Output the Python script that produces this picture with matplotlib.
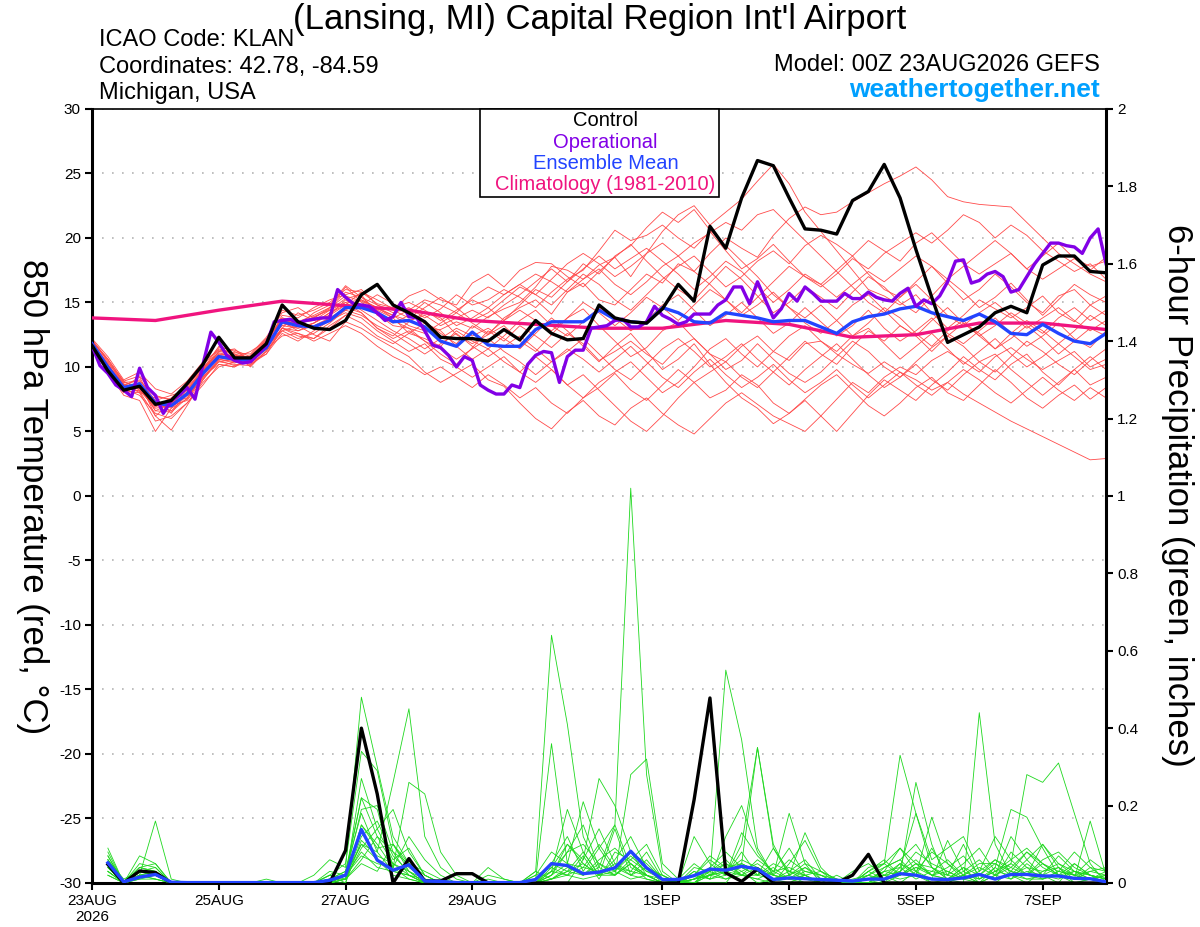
import numpy as np
import matplotlib
matplotlib.use('Agg')
from matplotlib import pyplot as plt
from matplotlib.patches import Rectangle

plt.rcParams['font.family'] = ['Liberation Sans', 'DejaVu Sans']
plt.rcParams['axes.unicode_minus'] = False

# forecast days from 00Z 23AUG2026 (6-hourly, 0..384 h)
days_6h = np.arange(65) * 0.25
days_3h = np.arange(129) * 0.125
days_clim = np.arange(17)
days_precip = days_6h[1:]

tick_days = [0, 2, 4, 6, 9, 11, 13, 15]
tick_labels = ['23AUG\n2026', '25AUG', '27AUG', '29AUG', '1SEP', '3SEP', '5SEP', '7SEP']

# 850 hPa temperature, deg C
control_t = [11.65, 9.7, 8.2, 8.5, 7.1, 7.4, 8.7, 10.2, 12.3, 10.7, 10.7, 11.8,
             14.8, 13.5, 13.0, 12.9, 13.6, 15.6, 16.4, 14.8, 14.2, 13.5, 12.3, 12.2, 12.2, 12.0, 12.9,
             12.1, 13.6, 12.6, 12.1, 12.2, 14.8, 13.8, 13.5, 13.4, 14.5,
             16.4, 15.1, 20.9, 19.2, 23.1, 26.0, 25.6, 23.1, 20.7, 20.6,
             20.3, 22.9, 23.6, 25.7, 23.1, 19.1, 15.4, 11.9, 12.5, 13.1,
             14.2, 14.7, 14.2, 17.9, 18.6, 18.6, 17.4, 17.3]

mean_t = [11.8, 10.0, 8.4, 8.7, 7.2, 7.0, 7.9, 9.5, 10.8, 10.6, 10.5, 11.5,
          13.5, 13.2, 13.1, 13.6, 14.6, 14.6, 14.2, 13.5, 13.6, 13.1, 12.0, 11.6, 12.7, 11.7, 11.6,
          11.6, 12.9, 13.5, 13.5, 13.5, 14.4, 13.7, 13.5, 13.4, 14.6,
          14.2, 13.5, 13.4, 14.2, 14.0, 13.8, 13.5, 13.6, 13.6, 13.1,
          12.6, 13.5, 13.9, 14.1, 14.5, 14.7, 14.2, 13.9, 13.6, 14.1,
          13.5, 12.6, 12.5, 13.3, 12.6, 12.0, 11.8, 12.6]

# operational run, 3-hourly
oper_t = [11.65, 10.1, 9.5, 8.6, 8.2, 7.7, 9.9, 8.4, 7.8, 6.4, 7.4, 7.8, 8.4, 7.5, 10.2, 12.7,
          11.9, 10.9, 10.5, 10.3, 10.4, 11.0, 11.7, 13.5, 13.6, 13.7, 13.4, 13.6, 13.7, 13.8, 13.8, 16.0,
          15.4, 14.9, 14.8, 14.7, 14.2, 13.6, 13.9, 15.0, 13.9, 13.8, 12.8, 11.7, 11.5, 10.9, 10.0, 10.8,
          10.5, 8.6, 8.2, 7.9, 7.9, 8.6, 8.4, 10.2, 10.9, 11.2, 11.1, 8.8, 10.8, 11.3, 11.3, 13.0,
          13.1, 13.2, 13.6, 13.7, 13.1, 13.1, 13.5, 14.7, 14.0, 13.7, 13.3, 13.5, 14.1, 14.1, 14.1, 14.8,
          15.2, 16.2, 16.2, 14.9, 16.6, 15.2, 13.8, 14.5, 15.7, 15.1, 16.2, 15.7, 15.1, 15.1, 15.1, 15.7,
          15.3, 15.3, 15.8, 15.4, 15.2, 15.1, 15.7, 16.1, 14.7, 15.2, 14.9, 15.5, 16.6, 18.2, 18.3, 16.5,
          16.7, 17.2, 17.4, 17.0, 15.8, 16.0, 17.0, 18.0, 18.8, 19.6, 19.6, 19.4, 19.3, 18.8, 20.0, 20.7,
          18.0]

clim_t = [13.8, 13.6, 14.4, 15.1, 14.75, 14.4, 13.6, 13.3, 13.0, 13.0, 13.6, 13.3, 12.3, 12.5, 13.4, 13.4, 12.9]

member_t = [
    [11.9, 10.3, 8.9, 8.2, 6.9, 7.6, 8.6, 9.9, 11.0, 10.9, 10.8, 12.0,
     13.8, 13.5, 14.0, 14.6, 15.5, 15.1, 14.5, 14.0, 13.2, 12.8, 12.9, 13.5, 13.0, 13.9, 14.5,
     15.0, 16.2, 17.8, 17.5, 16.8, 17.9, 18.5, 17.0, 18.8, 20.5,
     21.8, 22.5, 21.0, 22.0, 23.0, 24.4, 25.7, 24.2, 22.0, 20.5,
     19.0, 17.5, 16.0, 15.5, 14.8, 15.6, 14.2, 13.0, 14.0, 15.2,
     14.5, 13.8, 14.6, 15.5, 14.2, 13.5, 14.8, 14.0],
    [11.5, 9.6, 7.8, 7.4, 5.0, 6.8, 7.5, 9.2, 10.4, 10.2, 10.1, 11.2,
     13.0, 12.6, 12.2, 13.0, 14.0, 14.8, 15.6, 14.9, 14.2, 13.5, 12.6, 11.8, 13.2, 12.5, 13.8,
     14.6, 15.2, 14.1, 15.8, 16.5, 15.2, 14.8, 16.0, 17.2, 16.5,
     18.0, 17.4, 18.8, 20.0, 19.2, 18.5, 20.2, 21.5, 22.4, 21.8,
     22.0, 22.8, 23.5, 24.2, 24.8, 25.5, 24.5, 23.2, 22.8, 22.6,
     22.5, 22.4, 21.2, 20.0, 18.8, 18.0, 17.2, 16.6],
    [12.2, 10.8, 9.0, 9.6, 8.3, 7.9, 8.9, 10.4, 11.3, 11.1, 11.0, 12.3,
     14.2, 14.6, 13.8, 14.5, 16.2, 15.0, 14.1, 13.2, 13.0, 12.0, 11.0, 10.2, 11.5, 12.8, 12.0,
     13.2, 12.4, 11.5, 12.6, 11.8, 10.5, 11.2, 12.0, 11.0, 10.2,
     11.5, 12.2, 11.0, 10.4, 11.6, 12.4, 11.2, 10.5, 11.8, 12.0,
     11.0, 10.2, 9.5, 10.4, 9.6, 9.0, 8.2, 8.8, 7.9, 7.2,
     6.5, 5.8, 5.2, 4.6, 4.0, 3.4, 2.8, 2.9],
    [11.7, 9.9, 8.2, 8.8, 6.2, 5.1, 7.0, 9.0, 10.6, 10.3, 10.7, 11.6,
     12.8, 13.2, 12.5, 12.0, 13.5, 13.0, 12.2, 11.5, 10.8, 9.6, 8.8, 9.5, 10.2, 9.0, 8.5,
     7.2, 6.0, 5.2, 6.5, 7.4, 6.2, 5.5, 6.8, 7.6, 6.4,
     5.5, 4.8, 6.0, 7.2, 8.0, 7.1, 6.2, 5.6, 5.0, 6.2,
     7.5, 8.8, 8.0, 9.2, 10.0, 9.4, 10.5, 11.2, 10.4, 9.6,
     10.8, 11.5, 10.6, 9.8, 10.5, 11.2, 10.0, 10.6],
    [12.0, 10.5, 8.7, 8.0, 7.6, 6.4, 8.1, 9.6, 11.2, 11.4, 10.4, 11.0,
     13.0, 14.2, 13.6, 14.0, 14.8, 15.8, 15.2, 14.5, 15.5, 16.0, 15.2, 14.8, 16.5, 17.2, 16.2,
     17.5, 18.1, 18.0, 17.0, 16.2, 17.4, 18.5, 19.5, 18.2, 17.0,
     16.0, 15.2, 16.5, 17.8, 16.8, 15.5, 14.2, 15.0, 16.2, 15.4,
     14.5, 15.8, 17.0, 16.2, 15.0, 14.2, 15.5, 16.8, 15.8, 14.6,
     15.4, 16.5, 15.2, 14.0, 15.2, 16.4, 15.6, 15.0],
    [11.6, 10.1, 8.5, 9.2, 7.0, 7.3, 7.6, 9.3, 10.2, 10.0, 10.9, 12.2,
     13.5, 12.8, 13.4, 14.2, 15.0, 14.2, 13.0, 12.4, 13.5, 14.2, 13.8, 12.5, 11.8, 12.5, 13.2,
     12.0, 11.2, 12.5, 13.8, 14.5, 13.2, 12.0, 10.8, 11.5, 12.8,
     13.5, 12.2, 11.0, 9.8, 10.5, 11.8, 10.6, 9.5, 8.8, 9.6,
     10.8, 12.0, 11.2, 10.0, 9.2, 10.4, 11.5, 12.4, 11.6, 10.4,
     9.6, 10.8, 12.0, 11.2, 10.2, 9.4, 10.5, 11.4],
    [11.8, 10.0, 8.0, 8.6, 6.6, 7.2, 8.4, 9.8, 11.6, 11.2, 10.6, 11.8,
     14.0, 13.8, 14.6, 15.2, 15.6, 16.0, 14.8, 14.2, 14.6, 13.8, 14.5, 15.6, 14.8, 15.2, 16.0,
     15.4, 14.6, 15.8, 16.8, 17.5, 19.0, 20.6, 19.8, 20.2, 21.0,
     20.0, 19.2, 20.5, 19.0, 17.6, 18.4, 19.5, 18.2, 17.0, 16.4,
     17.5, 18.6, 17.2, 16.0, 15.4, 16.6, 17.8, 16.5, 15.2, 16.0,
     17.2, 16.2, 15.0, 14.2, 15.5, 16.0, 14.8, 15.5],
    [11.4, 9.8, 8.3, 7.8, 6.4, 6.0, 7.2, 8.8, 10.0, 10.4, 10.2, 11.0,
     12.6, 12.0, 12.8, 13.6, 14.2, 13.8, 12.8, 12.0, 11.2, 11.8, 10.6, 10.0, 9.2, 10.0, 10.8,
     9.6, 8.8, 9.8, 8.6, 7.6, 8.4, 9.5, 8.2, 7.4, 8.6,
     9.8, 8.8, 7.6, 8.2, 9.4, 8.6, 7.2, 6.4, 7.5, 8.6,
     9.4, 8.2, 7.0, 6.2, 7.2, 8.4, 9.2, 8.0, 7.4, 8.6,
     9.8, 8.8, 7.6, 6.8, 7.8, 8.6, 7.5, 8.4],
    [12.1, 10.4, 8.6, 9.0, 7.4, 7.8, 8.2, 9.6, 10.9, 10.7, 11.2, 12.0,
     13.2, 13.6, 13.0, 13.8, 14.4, 15.2, 14.6, 13.8, 12.6, 12.2, 11.6, 12.8, 12.0, 11.4, 12.4,
     13.6, 14.4, 13.2, 12.4, 13.5, 14.6, 13.8, 12.8, 13.6, 14.8,
     15.6, 14.4, 13.2, 14.0, 15.0, 13.8, 12.6, 13.4, 14.6, 13.5,
     12.4, 13.2, 14.4, 13.0, 12.0, 12.8, 13.8, 12.6, 11.8, 12.8,
     13.8, 12.6, 11.6, 12.4, 13.4, 12.2, 11.5, 12.8],
    [11.8, 10.2, 8.6, 8.4, 7.2, 6.6, 7.8, 9.4, 10.7, 10.5, 10.3, 11.4,
     13.4, 13.0, 13.4, 14.0, 15.2, 14.4, 13.6, 12.8, 12.2, 11.4, 12.2, 13.0, 12.4, 13.0, 12.2,
     11.4, 12.6, 13.8, 12.8, 11.6, 10.4, 11.6, 12.6, 11.2, 9.8,
     10.6, 11.8, 10.2, 8.8, 7.6, 6.8, 5.6, 6.4, 7.4, 6.2,
     5.0, 6.4, 7.8, 9.0, 8.2, 7.4, 8.6, 9.6, 10.8, 9.8,
     9.0, 10.2, 11.0, 9.6, 8.6, 9.8, 10.8, 9.8],
    [11.9, 10.0, 8.8, 8.9, 7.8, 7.4, 8.0, 9.7, 11.4, 11.0, 10.0, 11.3,
     13.6, 13.2, 14.2, 14.8, 16.3, 15.4, 14.8, 14.4, 13.8, 14.6, 15.4, 14.6, 13.6, 14.2, 15.2,
     16.2, 15.6, 14.8, 16.0, 17.2, 16.4, 15.2, 14.4, 15.6, 16.8,
     17.8, 18.6, 17.4, 16.2, 17.0, 18.2, 19.0, 18.0, 19.4, 20.2,
     19.5, 18.6, 19.8, 19.0, 18.2, 19.6, 20.4, 19.2, 18.0, 17.2,
     18.0, 18.8, 17.6, 16.8, 17.6, 18.4, 17.5, 18.5],
    [11.6, 9.7, 8.0, 8.2, 6.8, 7.0, 7.4, 9.0, 10.5, 10.1, 10.4, 11.6,
     13.0, 12.4, 12.2, 13.2, 14.0, 13.4, 12.4, 11.8, 12.6, 13.4, 12.8, 11.6, 10.6, 11.4, 10.4,
     9.6, 10.8, 9.8, 8.6, 9.4, 8.2, 7.0, 5.8, 5.0, 6.2,
     7.6, 8.8, 9.6, 10.4, 9.2, 8.4, 9.6, 10.8, 12.0, 11.0,
     10.2, 11.6, 12.8, 12.0, 13.2, 12.4, 11.2, 12.4, 13.4, 12.6,
     11.4, 12.2, 13.2, 12.2, 11.0, 12.0, 13.0, 12.4],
    [12.0, 10.6, 8.8, 8.5, 7.0, 7.0, 8.5, 10.0, 11.1, 10.8, 10.6, 11.9,
     13.8, 13.4, 13.6, 14.4, 15.3, 15.6, 14.0, 13.4, 14.0, 15.0, 14.2, 13.2, 13.8, 14.6, 13.6,
     14.8, 16.0, 15.4, 16.6, 18.0, 17.2, 18.6, 19.4, 20.8, 22.0,
     21.2, 22.2, 20.6, 19.4, 18.2, 17.0, 15.6, 14.6, 13.8, 14.8,
     13.6, 12.4, 13.4, 14.6, 13.8, 12.6, 11.6, 12.8, 13.6, 12.4,
     11.4, 12.6, 13.6, 12.8, 11.8, 12.8, 14.0, 13.2],
    [11.7, 10.0, 8.4, 8.6, 7.4, 6.8, 8.0, 9.4, 10.8, 10.8, 10.8, 11.8,
     13.2, 13.0, 13.4, 14.2, 14.8, 14.6, 14.2, 13.6, 13.0, 12.6, 13.4, 14.2, 13.4, 12.6, 13.6,
     14.4, 13.6, 12.8, 13.8, 15.0, 14.2, 13.2, 14.2, 15.4, 14.6,
     13.6, 14.8, 16.0, 15.2, 14.2, 15.4, 16.6, 17.8, 17.0, 16.2,
     17.2, 18.4, 17.6, 18.8, 19.6, 20.4, 19.6, 20.6, 21.8, 21.2,
     20.0, 21.0, 20.2, 19.0, 18.2, 17.4, 18.0, 16.8],
    [11.8, 10.1, 8.6, 8.3, 7.0, 6.9, 8.2, 9.8, 11.0, 10.8, 10.4, 11.7,
     13.6, 13.4, 13.8, 14.6, 15.8, 15.4, 14.4, 13.8, 14.4, 15.2, 14.8, 14.2, 15.4, 16.2, 15.6,
     16.4, 17.2, 16.6, 15.8, 16.8, 17.6, 16.4, 15.6, 16.6, 17.8,
     18.6, 19.6, 20.4, 21.2, 20.6, 21.8, 22.2, 21.0, 19.8, 18.6,
     17.4, 16.2, 15.0, 14.2, 15.4, 16.4, 15.2, 14.0, 13.2, 14.2,
     15.0, 14.0, 13.0, 13.8, 14.6, 13.6, 12.8, 13.6],
    [11.5, 9.8, 8.1, 8.0, 5.8, 6.2, 7.2, 8.6, 10.2, 10.0, 10.6, 11.4,
     12.4, 12.6, 12.0, 12.6, 13.2, 12.6, 11.6, 10.8, 10.2, 9.4, 10.0, 9.2, 8.4, 9.4, 8.6,
     7.6, 8.4, 7.2, 6.4, 7.6, 8.8, 9.6, 10.4, 9.2, 8.0,
     8.8, 10.0, 11.4, 12.2, 11.0, 10.0, 11.2, 12.4, 13.2, 12.0,
     11.2, 12.4, 13.0, 11.8, 10.6, 11.6, 12.6, 11.4, 10.2, 11.2,
     12.2, 11.0, 10.0, 10.8, 11.8, 10.8, 9.8, 10.2],
    [12.1, 10.6, 8.9, 9.3, 7.7, 7.5, 8.6, 10.1, 11.5, 11.3, 10.8, 12.1,
     14.4, 14.0, 14.4, 15.0, 16.0, 15.8, 14.9, 14.6, 15.0, 14.4, 13.6, 14.4, 15.2, 14.6, 15.6,
     16.4, 15.6, 16.8, 18.0, 18.8, 18.0, 17.0, 17.8, 18.8, 19.6,
     18.6, 17.4, 16.4, 15.2, 14.0, 14.8, 15.8, 14.6, 13.4, 12.6,
     13.6, 14.8, 15.6, 14.4, 13.2, 12.4, 13.6, 14.6, 13.4, 12.4,
     13.2, 14.2, 13.4, 12.6, 13.8, 14.6, 13.6, 14.4],
    [11.6, 9.9, 8.3, 8.4, 6.6, 6.5, 7.6, 9.2, 10.6, 10.4, 10.2, 11.2,
     12.8, 12.2, 12.6, 13.4, 14.4, 14.0, 13.2, 12.6, 11.8, 11.0, 11.8, 12.6, 11.6, 10.8, 11.6,
     12.4, 11.4, 10.4, 11.2, 12.2, 11.0, 9.8, 9.0, 10.2, 11.4,
     12.2, 11.2, 10.0, 10.8, 11.8, 10.6, 9.6, 8.6, 9.8, 10.8,
     11.8, 10.6, 9.4, 8.4, 9.2, 10.2, 9.0, 8.2, 9.4, 10.4,
     11.0, 9.8, 8.8, 7.8, 8.8, 9.8, 8.6, 9.2],
    [11.9, 10.2, 8.5, 8.7, 7.3, 7.1, 8.3, 9.7, 11.2, 11.0, 10.7, 11.9,
     13.7, 13.3, 13.9, 14.4, 15.0, 15.2, 14.6, 14.0, 13.6, 14.0, 13.2, 13.8, 14.4, 13.8, 14.8,
     15.6, 16.6, 17.6, 16.6, 17.6, 18.6, 17.6, 18.4, 19.2, 18.2,
     17.2, 16.0, 17.0, 18.2, 17.4, 16.2, 15.0, 16.0, 17.2, 16.4,
     15.4, 16.4, 17.4, 16.6, 17.6, 18.6, 17.8, 16.8, 17.8, 18.8,
     19.8, 18.8, 17.6, 18.6, 19.6, 18.4, 17.8, 18.2],
    [11.7, 10.0, 8.6, 8.1, 6.2, 7.2, 7.8, 9.1, 10.4, 10.6, 10.6, 11.4,
     13.0, 12.8, 13.2, 13.8, 14.6, 14.2, 13.0, 12.2, 12.8, 12.0, 11.4, 10.6, 11.4, 12.2, 11.2,
     10.4, 9.4, 10.4, 11.4, 10.6, 9.6, 10.6, 11.6, 10.4, 9.2,
     8.4, 9.6, 10.6, 9.4, 8.4, 9.2, 10.2, 9.0, 8.0, 8.8,
     9.8, 8.6, 7.6, 8.6, 9.6, 8.6, 7.8, 8.8, 9.8, 9.0,
     8.0, 7.2, 8.2, 9.2, 8.2, 7.4, 8.4, 7.6],
]

# 6-hour precipitation, inches (6 h .. 384 h)
control_p = [.048, 0, .031, .027, 0, 0, 0, 0,
             0, 0, 0, 0, 0, 0, 0, .084,
             .40, .23, 0, .063, .005, .005, .024, .024,
             0, 0, 0, 0, 0, 0, 0, 0,
             0, 0, 0, 0, 0, .215, .478, .026,
             .004, .036, 0, 0, 0, 0, 0, .02,
             .074, 0, 0, 0, 0, 0, 0, 0,
             0, 0, 0, 0, 0, 0, 0, 0]

mean_p = [.052, .003, .015, .022, .002, .001, .001, .001,
          .001, .001, .001, .001, .001, .001, .007, .02,
          .138, .059, .033, .047, .005, .004, .001, .001,
          .001, .001, .001, .009, .05, .045, .024, .028,
          .039, .082, .039, .009, .009, .019, .036, .033,
          .043, .036, .009, .013, .011, .009, .007, .005,
          .01, .01, .024, .02, .01, .009, .013, .022,
          .01, .022, .022, .018, .018, .012, .011, .003]

member_p = [
    [.06, .01, .03, .02, 0, 0, 0, 0, 0, 0, 0, 0, 0, 0, .01, .03,
     .22, .12, .05, .02, 0, 0, 0, 0, 0, 0, 0, .02, .08, .05, .02, .04,
     .15, 1.02, .28, .03, 0, .01, .02, .05, .03, 0, .01, 0, .02, 0, 0, 0,
     0, .01, .05, .02, 0, 0, .02, 0, 0, .03, .08, .05, .02, 0, .01, 0],
    [.09, 0, .07, .05, 0, 0, 0, 0, 0, 0, 0, 0, 0, .02, .06, .04,
     .48, .30, .12, .05, .01, 0, 0, 0, 0, 0, 0, 0, .03, .19, .08, .02,
     .05, .02, .04, 0, 0, .03, .01, .12, .20, .08, .02, .18, .05, 0, 0, 0,
     .02, .05, .09, .03, 0, .01, .04, 0, .02, .12, .06, .02, 0, .05, .02, 0],
    [.04, 0, .02, .16, .01, 0, 0, 0, 0, 0, 0, 0, 0, 0, 0, .02,
     .10, .08, .26, .45, .12, .04, .01, 0, .04, .01, 0, 0, 0, 0, .06, .27,
     .20, .08, .02, 0, 0, 0, 0, 0, .05, .35, .09, .02, .13, .04, 0, 0,
     0, 0, .02, .26, .10, 0, .02, 0, .02, .05, .28, .26, .31, .18, .05, 0],
    [.05, 0, .04, .03, 0, 0, 0, 0, 0, 0, 0, 0, 0, 0, .02, .05,
     .34, .29, .10, .03, 0, 0, 0, 0, 0, 0, 0, .03, .64, .41, .12, .03,
     .02, .05, .01, 0, 0, .02, .06, .03, .02, .01, 0, .05, .11, .03, .01, 0,
     .03, .05, .33, .18, .04, .01, 0, .44, .10, .02, 0, .03, .04, 0, .01, 0],
    [.03, 0, .05, .04, 0, 0, 0, 0, 0, 0, 0, 0, 0, 0, .03, .02,
     .19, .20, .08, .02, 0, 0, 0, 0, 0, 0, 0, .01, .36, .05, .21, .09,
     .03, .01, .02, 0, .01, .05, .02, .55, .37, .09, .02, .01, 0, 0, .02, 0,
     0, .04, .06, .02, .17, .05, .01, 0, .04, .19, .17, .09, .02, .01, .03, .04],
    [.02, 0, .02, .01, 0, 0, 0, 0, 0, 0, 0, 0, 0, 0, 0, .01,
     .15, .10, .04, .26, .23, .08, .02, 0, 0, 0, 0, 0, .02, .10, .05, .02,
     .02, .28, .32, .05, .01, 0, .04, .02, .10, .35, .10, .02, 0, 0, 0, .01,
     .02, 0, .04, .18, .06, .09, .12, .03, .12, .06, .02, .10, .04, .01, .16, .02],
    [.07, 0, .03, .02, 0, 0, 0, 0, 0, 0, 0, 0, 0, 0, .01, .02,
     .10, .06, .02, .01, 0, 0, 0, 0, .02, .01, 0, 0, .05, .12, .03, .09,
     .15, .04, .02, 0, 0, .12, .05, .02, .13, .07, .03, .09, .02, 0, 0, .03,
     .05, .02, 0, .03, .01, .11, .03, .01, .03, .05, .02, .06, .08, .04, .02, .01],
    [.04, 0, .01, .02, 0, 0, 0, 0, 0, 0, 0, 0, 0, 0, 0, .01,
     .05, .03, .10, .04, .01, 0, 0, 0, 0, 0, 0, 0, .01, .03, .02, .05,
     .03, .08, .05, .01, 0, .01, .03, .06, .02, .02, .05, .03, .01, 0, 0, 0,
     .01, .03, .09, .05, .02, .03, .01, .02, .01, .02, .04, .03, .05, .02, .03, .02],
    [.05, 0, .04, .03, 0, 0, 0, 0, 0, 0, 0, 0, 0, 0, 0, .02,
     .22, .19, .04, .01, 0, 0, 0, 0, 0, 0, 0, 0, .02, .05, .04, .03,
     .04, .03, .08, .01, 0, 0, .02, .04, .05, .03, .01, .02, .04, .01, 0, 0,
     .04, .05, .02, .05, .04, .01, .02, .05, .05, .02, .01, .01, .02, .05, .02, .01],
    [.08, 0, .02, .03, 0, 0, 0, 0, 0, 0, 0, 0, 0, 0, .02, 0,
     .15, .09, .10, .05, .02, 0, 0, 0, 0, 0, 0, .03, .01, .02, .07, .01,
     .08, .06, .03, .02, 0, .04, .03, .01, .03, .05, .02, .01, .03, .02, 0, 0,
     0, .02, .01, .02, .09, .02, .10, .01, .04, .01, .05, .02, .01, .03, .01, 0],
    [.03, 0, .03, .02, 0, 0, 0, 0, 0, 0, 0, 0, 0, 0, .01, .01,
     .27, .14, .06, .09, .02, 0, 0, 0, .01, 0, 0, 0, .04, .02, .01, .02,
     .14, .02, .01, 0, 0, .02, .01, .03, .06, .04, .01, .02, .05, .03, .01, 0,
     .03, .06, .02, .04, .02, .01, .03, .06, .02, .04, .08, .04, .02, .01, .04, .03],
    [.06, 0, .01, .01, 0, 0, 0, 0, 0, 0, 0, 0, 0, 0, .01, .02,
     .08, .04, .03, .02, 0, 0, 0, 0, 0, 0, 0, .01, .03, .08, .10, .05,
     .02, .05, .02, 0, 0, .01, .02, .03, .04, .02, .09, .03, .02, 0, 0, 0,
     .01, .02, .03, .08, .05, .03, .01, .02, .06, .03, .02, .01, .03, .02, .01, .02],
    [.04, 0, .02, .03, 0, 0, 0, 0, 0, 0, 0, 0, 0, 0, 0, .01,
     .12, .16, .07, .03, 0, 0, 0, 0, 0, 0, 0, .02, .04, .10, .06, .14,
     .05, .03, .02, 0, 0, .02, .07, .04, .02, .06, .03, .01, .02, 0, 0, 0,
     .02, .04, .06, .10, .04, .02, .01, .03, .06, .04, .02, .05, .03, .02, .06, .03],
    [.06, 0, .03, .02, 0, 0, 0, 0, 0, 0, 0, 0, 0, 0, .02, .01,
     .09, .14, .19, .08, .02, 0, 0, 0, 0, 0, 0, 0, .01, .04, .02, .06,
     .09, .05, .02, .01, 0, .01, .04, .08, .04, .02, .01, .03, .06, .01, 0, 0,
     .01, .02, .05, .03, .08, .05, .02, .01, .03, .06, .09, .05, .02, .03, .01, .02],
    [.03, 0, .04, .05, 0, 0, 0, 0, 0, 0, 0, 0, 0, 0, 0, .02,
     .07, .05, .04, .12, .06, .02, 0, 0, 0, 0, 0, 0, .02, .08, .15, .04,
     .02, .06, .10, .02, 0, 0, .02, .01, .02, .04, .02, .06, .03, .02, .01, 0,
     .03, .01, .02, .05, .02, .04, .07, .02, .01, .08, .04, .01, .03, .08, .04, .01],
    [.05, 0, .02, .02, 0, 0, 0, 0, 0, 0, 0, 0, 0, 0, .01, .03,
     .18, .08, .03, .02, .01, 0, 0, 0, 0, 0, 0, .01, .05, .03, .08, .02,
     .06, .12, .04, .02, 0, .03, .01, .02, .08, .02, .04, .01, .02, .03, 0, 0,
     0, .03, .04, .01, .03, .02, .05, .09, .03, .02, .06, .10, .05, .03, .02, .01],
    [.02, 0, .03, .04, 0, 0, 0, 0, 0, 0, .01, 0, 0, 0, 0, .01,
     .06, .12, .08, .05, .03, .01, 0, 0, 0, 0, 0, 0, .03, .02, .04, .10,
     .04, .02, .06, .01, 0, 0, .03, .05, .02, .01, .03, .04, .02, 0, 0, 0,
     .02, .01, .03, .06, .02, .01, .04, .02, .05, .03, .01, .02, .07, .03, .02, .01],
    [.07, 0, .02, .01, 0, 0, 0, 0, 0, 0, 0, 0, 0, 0, 0, 0,
     .11, .07, .05, .03, .01, 0, 0, 0, 0, 0, 0, 0, .01, .03, .05, .02,
     .03, .07, .03, .01, 0, .01, .02, .03, .05, .03, .02, .01, .04, .02, 0, 0,
     .01, .03, .02, .04, .03, .06, .02, .04, .02, .01, .03, .02, .04, .02, .01, .03],
]

black = '#000000'
purple = '#8200e6'
blue = '#2244ff'
magenta = '#f0147f'
red = '#ff4a4a'
green = '#1ed81e'

fig = plt.figure(figsize=(12, 9.27), dpi=100)
ax = fig.add_axes([0.0767, 0.0475, 0.845, 0.835])
ax2 = ax.twinx()

for m in member_t:
    ax.plot(days_6h, m, color=red, lw=0.6, zorder=2)
ax.plot(days_clim, clim_t, color=magenta, lw=2.4, zorder=3)
ax.plot(days_6h, mean_t, color=blue, lw=2.4, zorder=4)
ax.plot(days_3h, oper_t, color=purple, lw=2.4, zorder=5)
ax.plot(days_6h, control_t, color=black, lw=2.4, zorder=6)

for m in member_p:
    ax2.plot(days_precip, m, color=green, lw=0.6, zorder=2)
ax2.plot(days_precip, control_p, color=black, lw=2.4, zorder=4)
ax2.plot(days_precip, mean_p, color=blue, lw=2.4, zorder=5)

ax.set_xlim(0, 16)
ax.set_ylim(-30, 30)
ax2.set_ylim(0, 2)
ax.set_yticks(np.arange(-30, 31, 5))
ax2.set_yticks(np.arange(0, 2.01, 0.2))
ax2.set_yticklabels(['0', '0.2', '0.4', '0.6', '0.8', '1', '1.2', '1.4', '1.6', '1.8', '2'])
ax.set_xticks(tick_days)
ax.set_xticklabels(tick_labels)

ax.grid(axis='y', color='#b4b4b4', linestyle=(0, (1, 5)), lw=1.2)
ax.tick_params(axis='both', direction='out', length=5, width=1.5, labelsize=11, pad=3)
ax2.tick_params(axis='y', direction='out', length=5, width=1.5, labelsize=11, pad=3)

for side in ['left', 'bottom']:
    ax.spines[side].set_linewidth(2.2)
ax.spines['top'].set_linewidth(1.2)
ax.spines['right'].set_visible(False)
for side in ['left', 'bottom', 'top']:
    ax2.spines[side].set_visible(False)
ax2.spines['right'].set_linewidth(2.2)

# legend box
ax2.add_patch(Rectangle((0.3826, 0.886), 0.2357, 0.114, transform=ax2.transAxes,
                        facecolor='white', edgecolor='black', lw=1.2, zorder=10, clip_on=False))
legend_items = [('Control', black), ('Operational', purple),
                ('Ensemble Mean', blue), ('Climatology (1981-2010)', magenta)]
for k, (label, col) in enumerate(legend_items):
    ax2.text(0.5064, 0.9845 - k * 0.0275, label, color=col, fontsize=14.5,
             ha='center', va='center', transform=ax2.transAxes, zorder=11)

fig.text(0.5, 0.9687, "(Lansing, MI) Capital Region Int'l Airport", fontsize=25,
         ha='center', va='baseline')
fig.text(0.0825, 0.9504, 'ICAO Code: KLAN', fontsize=17, va='baseline')
fig.text(0.0825, 0.9213, 'Coordinates: 42.78, -84.59', fontsize=17, va='baseline')
fig.text(0.0825, 0.8932, 'Michigan, USA', fontsize=17, va='baseline')
fig.text(0.9167, 0.9234, 'Model: 00Z 23AUG2026 GEFS', fontsize=17, ha='right', va='baseline')
fig.text(0.9167, 0.8954, 'weathertogether.net', fontsize=19, fontweight='bold',
         color='#00a0ff', ha='right', va='baseline')

fig.text(0.027, 0.4644, '850 hPa Temperature (red, °C)', fontsize=25,
         rotation=270, ha='center', va='center')
fig.text(0.981, 0.466, '6-hour Precipitation (green, inches)', fontsize=25,
         rotation=270, ha='center', va='center')

fig.savefig('out.png', dpi=100)
